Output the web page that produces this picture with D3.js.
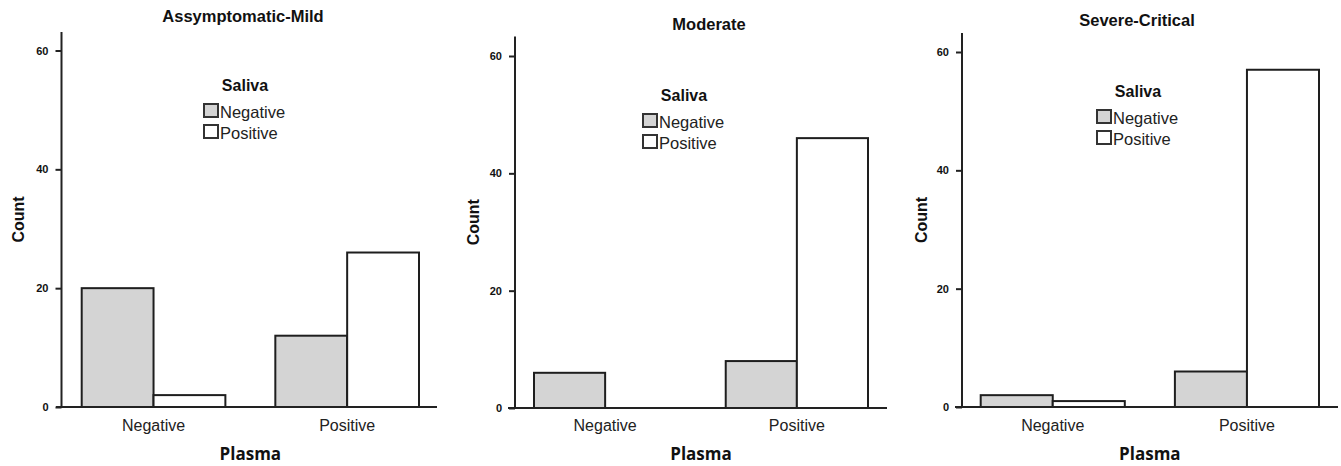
<!DOCTYPE html>
<html>
<head>
<meta charset="utf-8">
<script src="https://cdn.jsdelivr.net/npm/d3@7"></script>
<style>
  body { margin: 0; background: #fff; }
  svg { display: block; }
  .tick text { font-family: "Liberation Sans", Arial, sans-serif; font-weight: bold; font-size: 11px; fill: #111; }
</style>
</head>
<body>
<div id="graph-container"></div>
<script>
// Data___________________________________________________________
const panelTitles = ["Assymptomatic-Mild", "Moderate", "Severe-Critical"];
const plasmaCategories = ["Negative", "Positive"];
const salivaCategories = ["Negative", "Positive"];
const yTicks = [0, 20, 40, 60];
// counts per panel, [plasma][saliva]
const mildCounts = [[20, 2], [12, 26]];
const moderateCounts = [[6, 0], [8, 46]];
const severeCounts = [[2, 1], [6, 57]];
const panelCounts = [mildCounts, moderateCounts, severeCounts];

// Layout (positions per panel)_________________________________
const layout = [
    {axisX: 61.5, axisTop: 32, y0: 407, y60: 50.5, xStart: 56, xEnd: 437, bands: [81.7, 419], titleX: 243, titleY: 22, legX: 203, legY: 103, countX: 24},
    {axisX: 515, axisTop: 36.5, y0: 408, y60: 56, xStart: 508, xEnd: 887, bands: [534, 868], titleX: 709, titleY: 29.5, legX: 642, legY: 113, countX: 479},
    {axisX: 962, axisTop: 33, y0: 407, y60: 52, xStart: 955, xEnd: 1338, bands: [980.7, 1319], titleX: 1137, titleY: 26, legX: 1096, legY: 109, countX: 927}
];
const fills = {Negative: "#d4d4d4", Positive: "#ffffff"};

const svg = d3.select('#graph-container')
    .append('svg')
    .attr('width', 1341)
    .attr('height', 466);

panelCounts.forEach((counts, p) => {
    let L = layout[p];
    let g = svg.append('g').attr('class', 'panel');

    let yScale = d3.scaleLinear()
        .domain([0, 60])
        .range([L.y0, L.y60]);

    let xScale = d3.scaleBand()
        .domain(plasmaCategories)
        .range(L.bands)
        .paddingInner(0.258)
        .paddingOuter(0);

    let subScale = d3.scaleBand()
        .domain(salivaCategories)
        .range([0, xScale.bandwidth()]);

    // Bars
    plasmaCategories.forEach((pc, i) => {
        g.selectAll(null)
            .data(salivaCategories.map((sc, j) => ({saliva: sc, value: counts[i][j]})))
            .enter()
            .append('rect')
            .attr('x', d => xScale(pc) + subScale(d.saliva))
            .attr('y', d => yScale(d.value))
            .attr('width', subScale.bandwidth())
            .attr('height', d => yScale(0) - yScale(d.value))
            .attr('fill', d => fills[d.saliva])
            .attr('stroke', '#1e1e1e')
            .attr('stroke-width', 2);
    });

    // Axes
    const yAxis = d3.axisLeft(yScale)
        .tickValues(yTicks)
        .tickSize(6)
        .tickPadding(7)
        .tickSizeOuter(0);
    let ya = g.append('g')
        .attr('transform', `translate(${L.axisX}, 0)`)
        .call(yAxis);
    ya.select('.domain').remove();
    ya.selectAll('.tick line').attr('stroke', '#222').attr('stroke-width', 2);

    g.append('line')
        .attr('x1', L.axisX).attr('x2', L.axisX)
        .attr('y1', L.axisTop).attr('y2', yScale(0))
        .attr('stroke', '#222').attr('stroke-width', 2);

    g.append('line')
        .attr('x1', L.xStart).attr('x2', L.xEnd)
        .attr('y1', yScale(0)).attr('y2', yScale(0))
        .attr('stroke', '#222').attr('stroke-width', 2);

    // Category labels
    g.selectAll(null)
        .data(plasmaCategories)
        .enter()
        .append('text')
        .attr('x', d => xScale(d) + xScale.bandwidth() / 2)
        .attr('y', 431)
        .attr('text-anchor', 'middle')
        .style('font-family', '"Liberation Sans", Arial, sans-serif')
        .style('font-size', '16px')
        .style('fill', '#222')
        .text(d => d);

    // Axis titles
    g.append('text')
        .attr('x', (L.bands[0] + L.bands[1]) / 2)
        .attr('y', 460)
        .attr('text-anchor', 'middle')
        .style('font-family', '"Open Sans", sans-serif')
        .style('font-weight', 'bold')
        .style('font-size', '17px')
        .style('fill', '#111')
        .text('Plasma');

    g.append('text')
        .attr('transform', `translate(${L.countX}, ${(L.axisTop + L.y0) / 2}) rotate(-90)`)
        .attr('text-anchor', 'middle')
        .style('font-family', '"Liberation Sans", Arial, sans-serif')
        .style('font-weight', 'bold')
        .style('font-size', '16px')
        .style('fill', '#111')
        .text('Count');

    // Panel title
    g.append('text')
        .attr('x', L.titleX)
        .attr('y', L.titleY)
        .attr('text-anchor', 'middle')
        .style('font-family', '"Liberation Sans", Arial, sans-serif')
        .style('font-weight', 'bold')
        .style('font-size', '16.5px')
        .style('fill', '#111')
        .text(panelTitles[p]);

    // Legend
    let leg = g.append('g').attr('transform', `translate(${L.legX}, ${L.legY})`);
    leg.append('text')
        .attr('x', 42)
        .attr('y', -12)
        .attr('text-anchor', 'middle')
        .style('font-family', '"Liberation Sans", Arial, sans-serif')
        .style('font-weight', 'bold')
        .style('font-size', '16px')
        .style('fill', '#111')
        .text('Saliva');
    salivaCategories.forEach((sc, k) => {
        leg.append('rect')
            .attr('x', 1)
            .attr('y', k * 21 + 1)
            .attr('width', 14)
            .attr('height', 13)
            .attr('fill', fills[sc])
            .attr('stroke', '#333')
            .attr('stroke-width', 2);
        leg.append('text')
            .attr('x', 17)
            .attr('y', k * 21 + 14.5)
            .style('font-family', '"Liberation Sans", Arial, sans-serif')
            .style('font-size', '16.5px')
            .style('fill', '#222')
            .text(sc);
    });
});
</script>
</body>
</html>
